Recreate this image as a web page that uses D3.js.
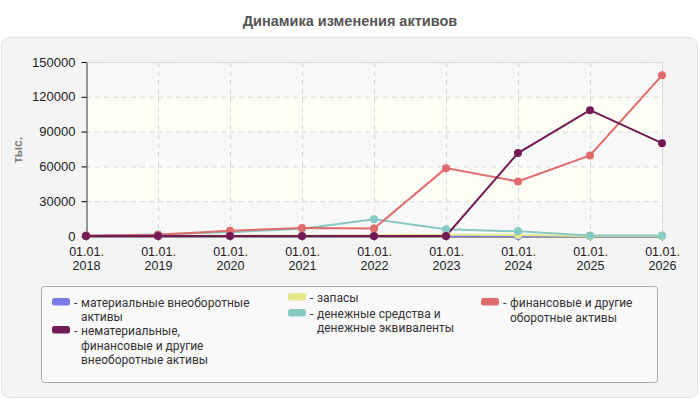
<!DOCTYPE html>
<meta charset="utf-8">
<style>
body { margin: 0; background: #fff; }
text { font-family: "Liberation Sans", Arial, sans-serif; }
.legend text { font-family: Roboto, "Liberation Sans", sans-serif; }
</style>
<body>
<script src="https://d3js.org/d3.v7.min.js"></script>
<script>

// data (тыс.)
const years = ["2018", "2019", "2020", "2021", "2022", "2023", "2024", "2025", "2026"];
const yTicks = [0, 30000, 60000, 90000, 120000, 150000];

const materialAssets = [0, 0, 0, 0, 0, 0, 0, 0, 0];
const intangibleAssets = [0, 0, 0, 0, 0, 0, 71500, 108500, 80000];
const inventories = [0, 500, 300, 500, 600, 1000, 800, 0, 0];
const cashAssets = [0, 1500, 3300, 6300, 14500, 5800, 4000, 500, 500];
const otherCurrent = [500, 1000, 4500, 7000, 6500, 58500, 47000, 69500, 138500];

const seriesNames = [
   ["материальные внеоборотные", "активы"],
   ["нематериальные,", "финансовые и другие", "внеоборотные активы"],
   ["запасы"],
   ["денежные средства и", "денежные эквиваленты"],
   ["финансовые и другие", "оборотные активы"]
];
const seriesColors = ["#7b7be8", "#731b54", "#e6e68a", "#86c9c5", "#e06b6b"];
const seriesValues = [materialAssets, intangibleAssets, inventories, cashAssets, otherCurrent];

const plotVars = ({
   width: 700,
   height: 400,
   left: 86,
   right: 662,
   top: 62,
   bottom: 236
});

const svg = d3.select("body").append("svg")
   .attr("width", plotVars.width)
   .attr("height", plotVars.height);

const defs = svg.append("defs");
const hatch = defs.append("pattern")
   .attr("id", "hatch")
   .attr("patternUnits", "userSpaceOnUse")
   .attr("width", 3)
   .attr("height", 3)
   .attr("patternTransform", "rotate(45)");
hatch.append("rect").attr("width", 3).attr("height", 3).attr("fill", "#fcfcfc");
hatch.append("line").attr("x1", 0).attr("y1", 0).attr("x2", 0).attr("y2", 3)
   .attr("stroke", "#ebebeb").attr("stroke-width", 1.2);

// title
svg.append("text")
   .attr("x", 350)
   .attr("y", 26)
   .attr("text-anchor", "middle")
   .style("font-size", "14.5px")
   .style("font-weight", "bold")
   .attr("fill", "#555")
   .text("Динамика изменения активов");

// outer panel
svg.append("rect")
   .attr("x", 1.5).attr("y", 37.5)
   .attr("width", 696).attr("height", 360)
   .attr("rx", 8).attr("ry", 8)
   .attr("fill", "#f4f4f4")
   .attr("stroke", "#e2e2e2");

let xScale = d3.scalePoint()
   .domain(years)
   .range([plotVars.left, plotVars.right]);

let yScale = d3.scaleLinear()
   .domain([0, 150000])
   .range([plotVars.bottom, plotVars.top]);

// alternating bands
const bands = d3.range(yTicks.length - 1);
svg.append("g").selectAll("rect")
   .data(bands)
   .join("rect")
   .attr("x", plotVars.left)
   .attr("y", i => yScale(yTicks[i + 1]))
   .attr("width", plotVars.right - plotVars.left)
   .attr("height", i => yScale(yTicks[i]) - yScale(yTicks[i + 1]))
   .attr("fill", i => i % 2 === 0 ? "url(#hatch)" : "#fdfdf6");

// grid
svg.append("g").selectAll("line")
   .data(yTicks.slice(1, -1))
   .join("line")
   .attr("x1", plotVars.left).attr("x2", plotVars.right)
   .attr("y1", d => yScale(d) + 0.5).attr("y2", d => yScale(d) + 0.5)
   .attr("stroke", "#d8d8d8")
   .attr("stroke-dasharray", "5,4");

svg.append("g").selectAll("line")
   .data(years.slice(1, -1))
   .join("line")
   .attr("x1", d => xScale(d) + 0.5).attr("x2", d => xScale(d) + 0.5)
   .attr("y1", plotVars.top).attr("y2", plotVars.bottom)
   .attr("stroke", "#d8d8d8")
   .attr("stroke-dasharray", "5,4");

// plot frame top/right
svg.append("path")
   .attr("d", `M${plotVars.left},${plotVars.top + 0.5}H${plotVars.right + 0.5}V${plotVars.bottom}`)
   .attr("fill", "none")
   .attr("stroke", "#dcdcdc");

// axes
let yAxis = d3.axisLeft(yScale).tickValues(yTicks).tickSize(5).tickSizeOuter(0).tickPadding(6)
   .tickFormat(d3.format("d"));
let xAxis = d3.axisBottom(xScale).tickSize(4).tickSizeOuter(0).tickFormat("");

let yG = svg.append("g")
   .attr("transform", `translate(${plotVars.left + 0.5},0)`)
   .call(yAxis);
yG.selectAll("text").style("font-size", "13px").attr("fill", "#222");
yG.select(".domain").attr("stroke", "#333");

let xG = svg.append("g")
   .attr("transform", `translate(0,${plotVars.bottom + 0.5})`)
   .call(xAxis);
xG.select(".domain").attr("stroke", "#333");
xG.selectAll(".tick text").remove();
// two separate lines per tick: date prefix and year
xG.selectAll(".tick").each(function(d) {
   let tick = d3.select(this);
   tick.append("text")
      .attr("text-anchor", "middle")
      .attr("fill", "#222")
      .attr("y", 19.5)
      .style("font-size", "12.5px")
      .text("01.01.");
   tick.append("text")
      .attr("text-anchor", "middle")
      .attr("fill", "#222")
      .attr("y", 33)
      .style("font-size", "12.5px")
      .text(d);
});

// y label
svg.append("text")
   .attr("transform", "translate(22,150) rotate(-90)")
   .attr("text-anchor", "middle")
   .attr("fill", "#808080")
   .style("font-size", "12px")
   .style("font-weight", "bold")
   .text("тыс.");

// lines
let lineGenerator = d3.line()
   .x((v, i) => xScale(years[i]))
   .y(v => yScale(v));

const drawOrder = [0, 2, 3, 4, 1];

svg.append("g").selectAll("path")
   .data(drawOrder)
   .join("path")
   .attr("d", k => lineGenerator(seriesValues[k]))
   .attr("fill", "none")
   .attr("stroke", k => seriesColors[k])
   .attr("stroke-width", 2);

drawOrder.forEach(function(k) {
   svg.append("g").selectAll("circle")
      .data(seriesValues[k])
      .join("circle")
      .attr("cx", (v, i) => xScale(years[i]))
      .attr("cy", v => yScale(v))
      .attr("r", 4)
      .attr("fill", seriesColors[k]);
});

// legend
let legend = svg.append("g").attr("class", "legend");
legend.append("rect")
   .attr("x", 41.5).attr("y", 286.5)
   .attr("width", 616).attr("height", 96)
   .attr("rx", 3).attr("ry", 3)
   .attr("fill", "#f9f9f9")
   .attr("stroke", "#aaa");

// swatch left edge, first baseline, line step
const legendPos = [[52, 307, 13.5], [52, 335, 14.5], [288, 302, 14], [288, 318, 14], [481, 307, 15]];

legend.selectAll("g.item")
   .data(seriesNames)
   .join("g")
   .attr("class", "item")
   .attr("transform", (d, i) => `translate(${legendPos[i][0]},${legendPos[i][1]})`)
   .each(function(lines, i) {
      let g = d3.select(this);
      g.append("rect")
         .attr("x", 0).attr("y", -9)
         .attr("width", 18).attr("height", 7.5)
         .attr("rx", 2.5).attr("ry", 2.5)
         .attr("fill", seriesColors[i]);
      g.append("text")
         .attr("x", 22)
         .attr("fill", "#333")
         .style("font-size", "12px")
         .text("-");
      let t = g.append("text")
         .attr("fill", "#333")
         .style("font-size", "12px");
      lines.forEach(function(line, j) {
         t.append("tspan")
            .attr("x", 29)
            .attr("y", j * legendPos[i][2])
            .text(line);
      });
   });

</script>
</body>
</html>
